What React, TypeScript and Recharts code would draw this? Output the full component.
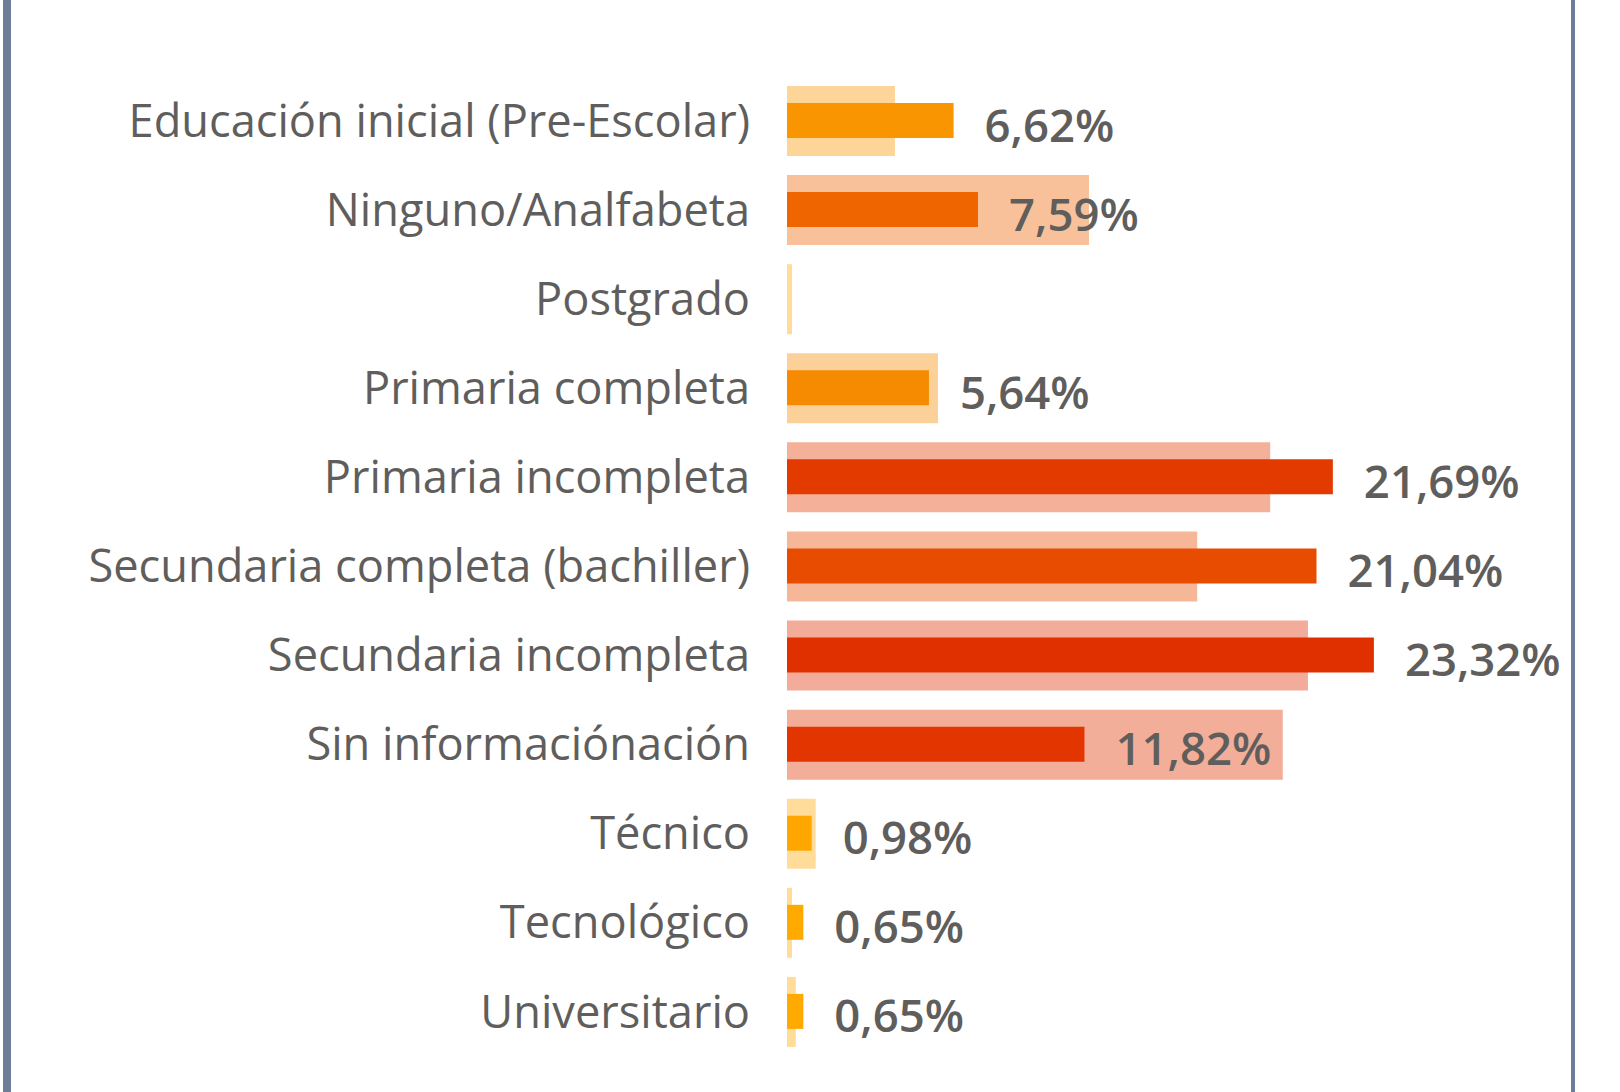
import React from "react";
import { BarChart, Bar, XAxis, YAxis, Cell, LabelList } from "recharts";

const categories = [
  "Educación inicial (Pre-Escolar)",
  "Ninguno/Analfabeta",
  "Postgrado",
  "Primaria completa",
  "Primaria incompleta",
  "Secundaria completa (bachiller)",
  "Secundaria incompleta",
  "Sin informaciónación",
  "Técnico",
  "Tecnológico",
  "Universitario",
];

// main series (labelled)
const values = [6.62, 7.59, null, 5.64, 21.69, 21.04, 23.32, 11.82, 0.98, 0.65, 0.65];
// comparison series (wide, light bars)
const reference = [4.29, 12.0, 0.2, 6.0, 19.2, 16.3, 20.7, 19.7, 1.14, 0.2, 0.35];

const colors = [
  "#F99500",
  "#EF6500",
  "#FFAA00",
  "#F68A00",
  "#E33A00",
  "#E84C00",
  "#E03000",
  "#E23500",
  "#FFA700",
  "#FFAA00",
  "#FFAA00",
];

const data = categories.map((name, i) => ({
  name,
  value: values[i],
  reference: reference[i],
}));

const FONT = "'Open Sans', sans-serif";
const TEXT = "#605E5C";

const ValueLabel = (props: any) => {
  const { x, y, width, height, value } = props;
  if (value === null || value === undefined) return null;
  return (
    <text
      x={x + width + 31}
      y={y + height / 2 + 21}
      fill={TEXT}
      fontSize={45.5}
      fontWeight={600}
      fontFamily={FONT}
      textAnchor="start"
    >
      {value.toFixed(2).replace(".", ",") + "%"}
    </text>
  );
};

export default function App() {
  return (
    <div
      style={{
        position: "absolute",
        left: 0,
        top: 0,
        width: 1620,
        height: 1092,
        background: "#FFFFFF",
        overflow: "hidden",
      }}
    >
      <div style={{ position: "absolute", left: 3, top: 0, width: 8, height: 1092, background: "#6D7D98" }} />
      <div style={{ position: "absolute", left: 1571, top: 0, width: 4, height: 1092, background: "#6D7D98" }} />
      <BarChart
        width={1620}
        height={1092}
        layout="vertical"
        data={data}
        margin={{ top: 76, right: 78, bottom: 36, left: 0 }}
      >
        <XAxis type="number" domain={[0, 30]} hide />
        <YAxis
          type="category"
          dataKey="name"
          width={787}
          axisLine={false}
          tickLine={false}
          tickSize={0}
          tickMargin={37}
          interval={0}
          tick={{ fill: TEXT, fontSize: 45.2, fontFamily: FONT }}
        />
        <YAxis yAxisId="back" type="category" dataKey="name" hide />
        <Bar dataKey="reference" yAxisId="back" barSize={70} isAnimationActive={false}>
          {data.map((d, i) => (
            <Cell key={`ref-${i}`} fill={colors[i]} fillOpacity={0.4} />
          ))}
        </Bar>
        <Bar dataKey="value" barSize={35} isAnimationActive={false}>
          {data.map((d, i) => (
            <Cell key={`val-${i}`} fill={colors[i]} />
          ))}
          <LabelList dataKey="value" content={ValueLabel} />
        </Bar>
      </BarChart>
    </div>
  );
}
